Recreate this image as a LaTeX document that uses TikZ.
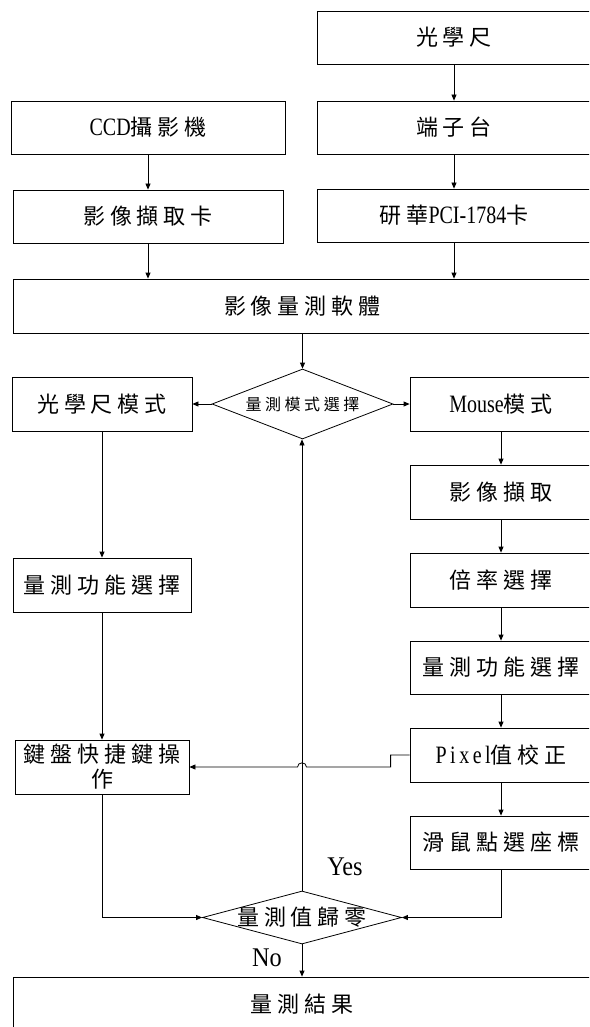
\documentclass[tikz,border=0pt]{standalone}
\usepackage{fontspec}
\setmainfont{Liberation Serif}
\newfontfamily\cjk[LetterSpace=22]{Noto Sans CJK TC}
\newfontfamily\lat[FakeStretch=0.8]{Liberation Serif}
\newfontfamily\latlbl[FakeStretch=0.9]{Liberation Serif}
\newfontfamily\latsp[FakeStretch=0.8,LetterSpace=14]{Liberation Serif}
\usetikzlibrary{arrows.meta,shapes.geometric}
\newcommand\LT[1]{{\fontsize{25}{28}\selectfont\lat #1}}
\newcommand\LTS[1]{{\fontsize{25}{28}\selectfont\latsp #1}}
\begin{document}
\begin{tikzpicture}[x=1pt,y=-1pt,
  box/.style={draw, line width=0.8pt, rectangle, minimum height=54pt, inner sep=0pt, align=center,
    font=\fontsize{22}{25}\selectfont\cjk},
  dia/.style={draw, line width=0.8pt, diamond, inner sep=0pt},
  arr/.style={line width=0.8pt, -{Triangle[length=6pt,width=5pt]}},
  lbl/.style={inner sep=0pt, font=\fontsize{27}{30}\selectfont\latlbl}]
\useasboundingbox (0,0) rectangle (589,1027);
\clip (0,0) rectangle (589,1027);
% top part
\node[box, minimum width=274pt, minimum height=53pt] (guang) at (454,37.5) {光學尺};
\node[box, minimum width=274pt, minimum height=53pt] (duan) at (454,127.5) {端子台};
\node[box, minimum width=274pt, minimum height=53pt] (yan) at (454,215.5) {研華\LT{PCI-1784}卡};
\node[box, minimum width=274pt, minimum height=53pt] (ccd) at (148,127.5) {\LT{CCD}攝影機};
\node[box, minimum width=270pt, minimum height=53pt] (cap) at (148,216.5) {影像擷取卡};
\node[box, minimum width=577.5pt] (soft) at (302.25,306) {影像量測軟體};
% mode selection
\node[dia, minimum width=181pt, minimum height=70pt, aspect=2.6,
  font=\fontsize{16}{18}\selectfont\cjk] (modesel) at (302.5,404) {量測模式選擇};
\node[box, minimum width=180pt] (optmode) at (102,404) {光學尺模式};
\node[box, minimum width=182pt] (mouse) at (501,404) {\LT{Mouse}模式};
% right column
\node[box, minimum width=182pt] (grab) at (501,492) {影像擷取};
\node[box, minimum width=182pt] (mag) at (501,580) {倍率選擇};
\node[box, minimum width=182pt, minimum height=53pt] (func2) at (501,667.5) {量測功能選擇};
\node[box, minimum width=182pt] (pixel) at (501,755) {\LTS{Pixel}值校正};
\node[box, minimum width=182pt, minimum height=53pt] (click) at (501,842.5) {滑鼠點選座標};
% left column
\node[box, minimum width=178pt] (func1) at (102,585) {量測功能選擇};
\node[box, minimum width=174pt] (key) at (102,767) {鍵盤快捷鍵操\\作};
% zero check
\node[dia, minimum width=199pt, minimum height=53pt, aspect=3.75, inner xsep=-8pt, inner ysep=-5pt,
  font=\fontsize{22}{25}\selectfont\cjk] (zero) at (302,917.5) {量測值歸零};
\node[box, minimum width=578pt] (result) at (302,1004) {量測結果};
% labels
\node[lbl] (yes) at (345,867) {Yes};
\node[lbl] (no) at (267,958) {No};
% connectors
\draw[arr] (guang) -- (duan);
\draw[arr] (duan) -- (yan);
\draw[arr] (ccd) -- (cap);
\draw[arr] (cap.south) -- (cap.south |- soft.north);
\draw[arr] (yan.south) -- (yan.south |- soft.north);
\draw[arr] (modesel.north |- soft.south) -- (modesel.north);
\draw[arr] (modesel.west) -- (optmode.east);
\draw[arr] (modesel.east) -- (mouse.west);
\draw[arr] (mouse) -- (grab);
\draw[arr] (grab) -- (mag);
\draw[arr] (mag) -- (func2);
\draw[arr] (func2) -- (pixel);
\draw[arr] (pixel) -- (click);
\draw[arr] (optmode) -- (func1);
\draw[arr] (func1) -- (key);
\draw[arr] (pixel.west) -- ++(-19,0) -- ++(0,12) -- (306.5,767)
  .. controls (306.5,761.5) and (297.5,761.5) .. (297.5,767) -- (key.east);
\draw[arr] (key.south) |- (zero.west);
\draw[arr] (click.south) |- (zero.east);
\draw[arr] (zero.north) -- (zero.north |- modesel.south);
\draw[arr] (zero.south) -- (zero.south |- result.north);
\end{tikzpicture}
\end{document}
